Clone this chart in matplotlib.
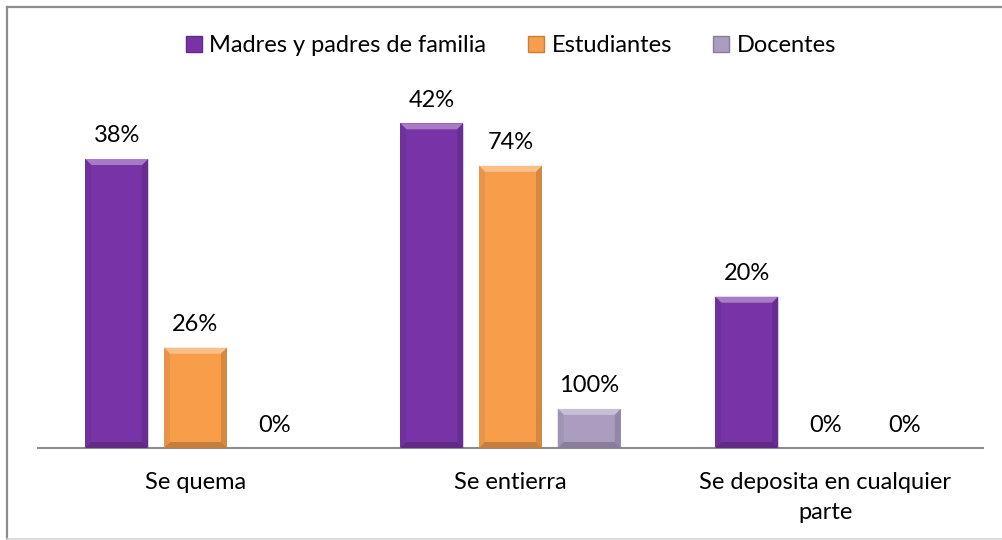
import numpy as np
import matplotlib
matplotlib.use("Agg")
import matplotlib.pyplot as plt
from matplotlib.patches import Polygon
from matplotlib.lines import Line2D
import matplotlib.colors as mcolors

plt.rcParams['font.family'] = ['Lato', 'DejaVu Sans']

categorias = ["Se quema", "Se entierra", "Se deposita en cualquier\nparte"]
series = ["Madres y padres de familia", "Estudiantes", "Docentes"]

# bar heights (counts) and the printed labels
madres = [17.0, 19.1, 8.9]
estudiantes = [5.9, 16.6, 0.0]
docentes = [0.0, 2.3, 0.0]
madres_pct = ["38%", "42%", "20%"]
estudiantes_pct = ["26%", "74%", "0%"]
docentes_pct = ["0%", "100%", "0%"]

colores = ["#7834a6", "#f89e4b", "#aa9dc0"]


def shade(color, f):
    r, g, b = mcolors.to_rgb(color)
    if f > 0:
        return (r + (1 - r) * f, g + (1 - g) * f, b + (1 - b) * f)
    return (r * (1 + f), g * (1 + f), b * (1 + f))


def bevel(ax, rect, color, px=6):
    # light top / dark sides on each bar, like the Excel bevel
    if rect.get_height() <= 0:
        return
    inv = ax.transData.inverted()
    x0, y0 = ax.transData.transform((rect.get_x(), 0))
    x1, y1 = ax.transData.transform((rect.get_x() + rect.get_width(), rect.get_height()))
    d = min(px, (y1 - y0) / 3)
    parts = [
        ([(x0, y1), (x1, y1), (x1 - d, y1 - d), (x0 + d, y1 - d)], shade(color, 0.35)),
        ([(x0, y0), (x0, y1), (x0 + d, y1 - d), (x0 + d, y0 + d)], shade(color, -0.06)),
        ([(x1, y0), (x1, y1), (x1 - d, y1 - d), (x1 - d, y0 + d)], shade(color, -0.14)),
        ([(x0, y0), (x1, y0), (x1 - d, y0 + d), (x0 + d, y0 + d)], shade(color, -0.2)),
    ]
    for pts, c in parts:
        ax.add_patch(Polygon(inv.transform(pts), closed=True, facecolor=c,
                             edgecolor='none', zorder=3))


fig = plt.figure(figsize=(10.03, 5.40), dpi=100)
ax = fig.add_axes([38 / 1003, 92 / 540, 945 / 1003, 374 / 540])
ax.set_xlim(-0.5, 2.5)
ax.set_ylim(0, 22)

x = np.arange(len(categorias))
ancho = 0.2
paso = 0.25
datos = [madres, estudiantes, docentes]
etiquetas = [madres_pct, estudiantes_pct, docentes_pct]

for i, (vals, labs, col, nombre) in enumerate(zip(datos, etiquetas, colores, series)):
    pos = x + (i - 1) * paso
    bars = ax.bar(pos, vals, width=ancho, color=col, zorder=2, label=nombre)
    for rect, lab in zip(bars, labs):
        bevel(ax, rect, col)
        ax.annotate(lab, (rect.get_x() + rect.get_width() / 2, rect.get_height()),
                    xytext=(0, 9), textcoords='offset points',
                    ha='center', va='bottom', fontsize=17, color='#000000')

for s in ['top', 'right', 'left']:
    ax.spines[s].set_visible(False)
ax.spines['bottom'].set_color('#8c8c8c')
ax.spines['bottom'].set_linewidth(1.5)
ax.set_yticks([])
ax.set_xticks(x)
ax.set_xticklabels(categorias, fontsize=17, linespacing=1.55)
ax.tick_params(axis='x', length=0, pad=17)

handles = [Line2D([], [], marker='s', linestyle='none', markersize=11.5,
                  markerfacecolor=c, markeredgecolor=shade(c, -0.2)) for c in colores]
fig.legend(handles, series, loc='center', bbox_to_anchor=(511 / 1003, 1 - 46 / 540),
           ncol=3, frameon=False, fontsize=17, handletextpad=0.3,
           columnspacing=1.75, handlelength=0.7)

# outer chart border
fig.add_artist(Line2D([7 / 1003, 7 / 1003], [0, 1 - 7 / 540], color='#8c8c8c', lw=1.6))
fig.add_artist(Line2D([7 / 1003, 1], [1 - 7 / 540, 1 - 7 / 540], color='#8c8c8c', lw=1.6))
fig.add_artist(Line2D([7 / 1003, 1], [1.5 / 540, 1.5 / 540], color='#d4d4d4', lw=1.2))

fig.savefig("out.png", dpi=100)
